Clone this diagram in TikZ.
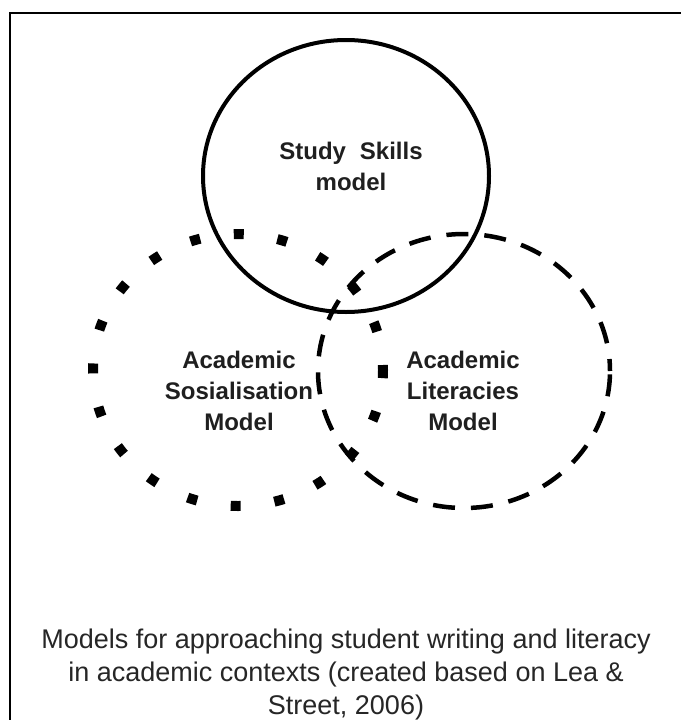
\documentclass[tikz,border=0pt]{standalone}
\usepackage{fontspec}
\setmainfont{Liberation Sans}
\begin{document}
\begin{tikzpicture}[x=1pt,y=-1pt,
  lab/.style={font=\bfseries\fontsize{24}{31}\selectfont, align=center, text=black!88, inner sep=0pt, anchor=base},
  captext/.style={font=\fontsize{27}{33}\selectfont, align=center, text=black!85, inner sep=0pt, anchor=base},
  solidring/.style={line width=4pt},
  dotring/.style={line width=10pt, dash pattern=on 10pt off 34pt, dash phase=5pt},
  dashring/.style={line width=4.5pt, dash pattern=on 22pt off 16pt, dash phase=10pt},
  frameline/.style={line width=2.5pt}]
\useasboundingbox (0,0) rectangle (681,720);
\fill[white] (0,0) rectangle (681,720);
\draw[frameline] (10,720) -- (10,13) -- (681,13);
% rings
\draw[dotring] (238,370) ellipse [x radius=145pt, y radius=136pt];
\draw[dashring] (464,371) ellipse [x radius=146pt, y radius=137pt];
\draw[solidring] (346,176) ellipse [x radius=143pt, y radius=136pt];
% labels (anchor base = baseline of last line)
\node[lab] (ss) at (351,190) {Study\hspace{0.3em} Skills\\model};
\node[lab] (as) at (239,430) {Academic\\Sosialisation\\Model};
\node[lab] (al) at (463,430) {Academic\\Literacies\\Model};
\node[captext] (caption) at (346,714) {Models for approaching student writing and literacy\\in academic contexts (created based on Lea \&\\Street, 2006)};
\end{tikzpicture}
\end{document}
